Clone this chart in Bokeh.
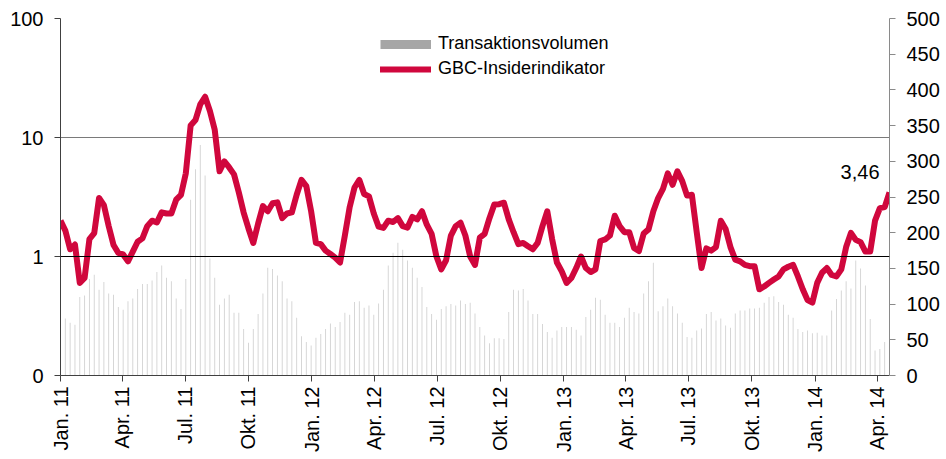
import numpy as np
import pandas as pd
from bokeh.plotting import figure
from bokeh.models import (ColumnDataSource, Range1d, LinearAxis, LinearScale, FixedTicker,
                          Span, Label, Legend, LegendItem)
from bokeh.embed import file_html
from bokeh.resources import INLINE

# ---------------- data (weekly) ----------------
start_date = "2011-01-01"

indicator = [2.0, 1.65, 1.15, 1.26, 0.60, 0.66, 1.40, 1.57, 3.1, 2.7,
             1.8, 1.25, 1.07, 1.04, 0.91, 1.1, 1.33, 1.42, 1.8, 2.0,
             1.93, 2.35, 2.3, 2.3, 3.0, 3.3, 5.0, 12.6, 14.0, 19.0,
             22.0, 16.7, 11.6, 5.2, 6.3, 5.6, 4.9, 3.45, 2.34, 1.72,
             1.30, 1.89, 2.65, 2.4, 2.8, 2.85, 2.1, 2.3, 2.35, 3.3,
             4.4, 3.9, 2.4, 1.30, 1.27, 1.12, 1.05, 0.98, 0.89, 1.5,
             2.6, 3.8, 4.4, 3.35, 3.2, 2.3, 1.78, 1.74, 2.0, 1.95,
             2.1, 1.8, 1.75, 2.15, 2.05, 2.4, 1.85, 1.55, 1.0, 0.78,
             0.93, 1.5, 1.8, 1.92, 1.5, 1.0, 0.85, 1.44, 1.55, 2.1,
             2.73, 2.75, 2.83, 2.05, 1.6, 1.27, 1.30, 1.22, 1.15, 1.3,
             1.8, 2.4, 1.4, 0.89, 0.75, 0.6, 0.66, 0.8, 1.0, 0.8,
             0.74, 0.78, 1.35, 1.39, 1.5, 2.2, 1.8, 1.6, 1.6, 1.18,
             1.11, 1.56, 1.69, 2.4, 3.1, 3.7, 5.0, 4.0, 5.2, 4.3,
             3.25, 3.3, 1.6, 0.8, 1.17, 1.12, 1.2, 2.0, 1.7, 1.2,
             0.94, 0.91, 0.85, 0.83, 0.83, 0.53, 0.56, 0.6, 0.64, 0.68,
             0.78, 0.82, 0.85, 0.68, 0.53, 0.43, 0.41, 0.6, 0.73, 0.8,
             0.7, 0.68, 0.78, 1.2, 1.58, 1.38, 1.32, 1.1, 1.1, 2.0,
             2.55, 2.6, 3.46]

volume = [80,
          80, 74, 71, 110, 112, 135, 141, 120, 131, 115,
          113, 96, 92, 104, 108, 121, 128, 128, 133, 145,
          154, 137, 132, 108, 93, 135, 246, 289,
          323, 280, 164, 137, 99, 108, 113, 88, 88, 65,
          46, 65, 86, 115, 151, 149, 140, 132, 108, 104,
          81, 55, 47, 42, 53, 58, 65, 73,
          68, 75, 88, 85, 103, 104, 95, 98, 85, 101,
          120, 154, 172, 186, 176, 161, 151, 137, 124, 96,
          86, 78, 93, 97, 100, 98, 105, 100,
          102, 87, 68, 56, 45, 52, 52, 51, 89, 120,
          119, 121, 105, 86, 86, 72, 61, 53, 63, 68,
          68, 68, 64, 56, 82, 92, 109, 106, 85,
          74, 74, 68, 81, 95, 89, 87, 115, 132, 158,
          90, 97, 108, 97, 87, 74, 54, 53, 63, 66,
          86, 89, 77, 80, 70, 67, 87, 91, 91, 94,
          94, 95, 102, 110, 111, 103, 99, 85, 81, 65,
          61, 63, 59, 60, 56, 56, 91, 107, 119, 132,
          122, 161, 150, 126, 79, 35, 37, 47, 50]

quarter_dates = ["2011-01-01", "2011-04-01", "2011-07-01", "2011-10-01",
                 "2012-01-01", "2012-04-01", "2012-07-01", "2012-10-01",
                 "2013-01-01", "2013-04-01", "2013-07-01", "2013-10-01",
                 "2014-01-01", "2014-04-01"]
quarter_labels = ["Jan. 11", "Apr. 11", "Jul. 11", "Okt. 11",
                  "Jan. 12", "Apr. 12", "Jul. 12", "Okt. 12",
                  "Jan. 13", "Apr. 13", "Jul. 13", "Okt. 13",
                  "Jan. 14", "Apr. 14"]

left_ticks = [0.1, 1, 10, 100]
left_labels = ["0", "1", "10", "100"]
right_ticks = [0, 50, 100, 150, 200, 250, 300, 350, 400, 450, 500]

series_names = ["Transaktionsvolumen", "GBC-Insiderindikator"]
last_label = "3,46"

# ---------------- build ----------------
FONT = "Liberation Sans"
RED = "#D0073D"

dates = pd.date_range(start_date, periods=len(indicator), freq="7D")
src = ColumnDataSource(dict(date=dates, ind=indicator, vol=volume))

p = figure(width=942, height=455, x_axis_type="datetime", y_axis_type="log",
           x_range=Range1d(dates[0], dates[-1]), y_range=Range1d(0.1, 100),
           output_backend="svg", toolbar_location=None,
           min_border_left=60, min_border_right=53, min_border_top=18, min_border_bottom=78)
p.outline_line_color = None
p.background_fill_color = "white"
p.border_fill_color = "white"

p.extra_y_ranges = {"vol": Range1d(0, 500)}
p.extra_y_scales = {"vol": LinearScale()}

day_ms = 86400000
p.vbar(x="date", top="vol", bottom=0, width=1.3 * day_ms, source=src,
       y_range_name="vol", fill_color="#D2D2D2", line_color=None)

ind_line = p.line(x="date", y="ind", source=src, line_color=RED, line_width=6, line_join="round")

# grid
p.xgrid.visible = False
p.ygrid.ticker = FixedTicker(ticks=[10, 100])
p.ygrid.grid_line_color = "#7a7a7a"
p.ygrid.grid_line_width = 1
p.add_layout(Span(location=1, dimension="width", line_color="black", line_width=1))

# left axis
ya = p.yaxis[0]
ya.ticker = FixedTicker(ticks=left_ticks)
ya.major_label_overrides = dict(zip(left_ticks, left_labels))
ya.minor_tick_line_color = None
ya.major_tick_in = 0
ya.major_tick_out = 6
ya.axis_line_color = "#404040"
ya.major_tick_line_color = "#404040"
ya.major_label_text_font = FONT
ya.major_label_text_font_size = "20px"
ya.major_label_text_color = "black"
ya.major_label_standoff = 11

# right axis
ra = LinearAxis(y_range_name="vol", ticker=FixedTicker(ticks=right_ticks))
ra.minor_tick_line_color = None
ra.major_tick_in = 0
ra.major_tick_out = 6
ra.axis_line_color = "#8a8a8a"
ra.major_tick_line_color = "#8a8a8a"
ra.major_label_text_font = FONT
ra.major_label_text_font_size = "20px"
ra.major_label_text_color = "black"
ra.major_label_standoff = 11
p.add_layout(ra, "right")

# bottom axis
tick_ms = [float(pd.Timestamp(d).value // 10**6) for d in quarter_dates]
xa = p.xaxis[0]
xa.ticker = FixedTicker(ticks=tick_ms)
xa.major_label_overrides = dict(zip(tick_ms, quarter_labels))
xa.major_label_orientation = np.pi / 2
xa.minor_tick_line_color = None
xa.major_tick_in = 0
xa.major_tick_out = 6
xa.axis_line_color = "#404040"
xa.major_tick_line_color = "#404040"
xa.major_label_text_font = FONT
xa.major_label_text_font_size = "20px"
xa.major_label_text_color = "black"
xa.major_label_standoff = 5

# legend (swatch-only renderers holding no drawable points)
swatch = ColumnDataSource(dict(x=[dates[0]], y=[np.nan]))
swatch_vol = p.line(x="x", y="y", source=swatch, line_color="#A6A6A6", line_width=9, line_cap="butt")
swatch_ind = p.line(x="x", y="y", source=swatch, line_color=RED, line_width=6, line_cap="round")
legend = Legend(items=[LegendItem(label=series_names[0], renderers=[swatch_vol]),
                       LegendItem(label=series_names[1], renderers=[swatch_ind])],
                location=(320, 296), orientation="vertical",
                padding=0, margin=0, spacing=4,
                glyph_width=51, glyph_height=20, label_height=20,
                label_standoff=7, border_line_color=None, background_fill_alpha=0,
                label_text_font=FONT, label_text_font_size="18px", label_text_color="black")
p.add_layout(legend)

# value annotation
p.add_layout(Label(x=dates[-1], y=indicator[-1], text=last_label, text_align="right",
                   text_baseline="bottom", x_offset=-10, y_offset=13,
                   text_font=FONT, text_font_size="20px", text_color="black"))

open("out.html", "w").write(file_html(p, INLINE))
